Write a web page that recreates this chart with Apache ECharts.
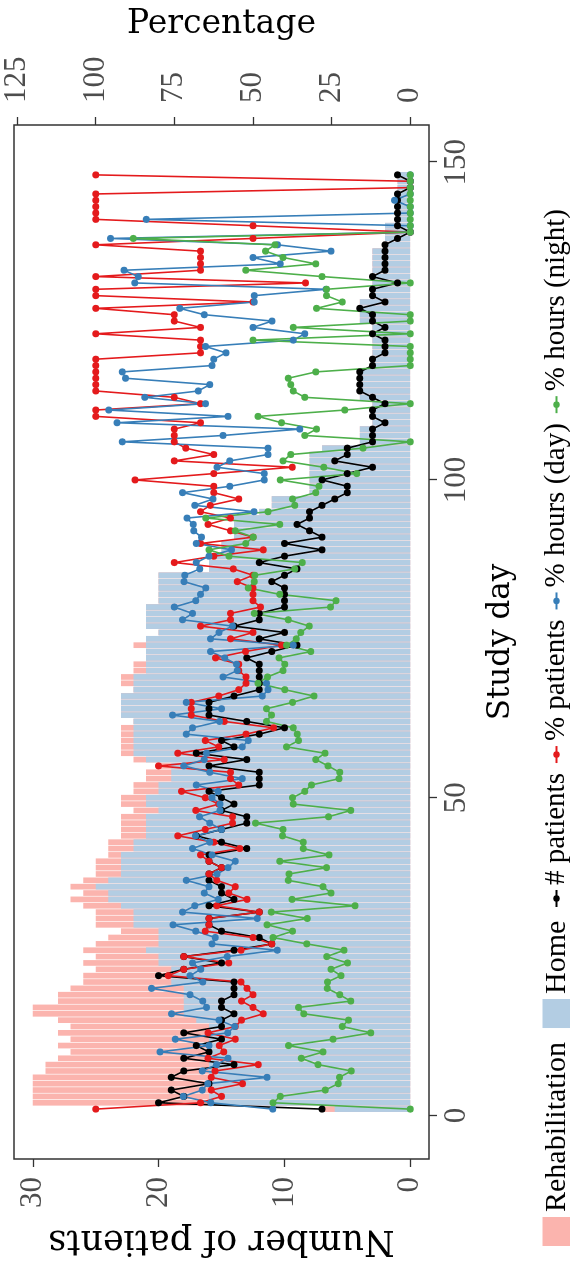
<!DOCTYPE html>
<html>
<head>
<meta charset="utf-8">
<script src="https://cdn.jsdelivr.net/npm/echarts@6/dist/echarts.min.js"></script>
<style>
  html, body { margin: 0; padding: 0; background: #fff; }
  body { width: 570px; height: 1267px; overflow: hidden; position: relative; }
  /* landscape chart turned a quarter turn counter-clockwise to fit the portrait page */
  #chart {
    position: absolute; left: 0; top: 0;
    width: 1267px; height: 570px;
    transform-origin: 0 0;
    transform: translate(0, 1267px) rotate(-90deg);
  }
</style>
</head>
<body>
<div id="chart"></div>
<script>
// Study days 1..148
const firstDay = 1;

// Patients per day by setting
const homePatients = [
  6,16,16,16,16,16,16,16,16,16,16,16,16,16,17,18,18,18,18,18,
  19,19,19,20,20,21,20,20,20,22,22,22,23,24,24,25,24,23,23,23,
  23,22,22,21,21,21,21,20,21,21,20,20,19,19,19,21,22,22,22,22,
  22,22,23,23,23,23,22,22,22,21,21,21,21,21,21,20,21,21,21,21,
  20,20,20,20,20,16,16,16,15,15,14,14,14,14,12,11,11,8,8,8,
  8,8,8,8,7,4,4,4,3,3,3,3,4,4,4,4,4,3,3,3,
  3,3,3,3,4,4,4,4,3,3,3,3,3,3,3,3,2,2,2,2,
  1,1,1,1,1,1,1,1
];
const rehabPatients = [
  1,14,14,14,14,14,13,13,12,11,12,11,12,11,11,12,12,10,10,9,
  7,7,6,6,5,5,5,4,3,3,3,3,3,3,2,2,2,2,2,2,
  1,2,2,2,2,2,2,2,2,2,2,2,2,2,1,1,1,1,1,1,
  1,0,0,0,0,0,0,1,1,1,1,0,0,1,0,0,0,0,0,0,
  0,0,0,0,0,0,0,0,0,0,0,0,0,0,0,0,0,0,0,0,
  0,0,0,0,0,0,0,0,0,0,0,0,0,0,0,0,0,0,0,0,
  0,0,0,0,0,0,0,0,0,0,0,0,0,0,0,0,0,0,0,0,
  0,0,0,0,0,0,0,0
];

// Number of patients (left axis)
const nPatients = [
  7,20,18,19,16,19,18,14,18,16,17,15,18,15,15,14,15,15,14,14,
  14,20,18,15,18,14,11,12,15,16,16,12,16,14,15,15,16,16,15,16,
  16,13,15,17,15,13,13,15,14,15,16,12,12,12,16,13,17,14,15,12,
  10,13,16,16,16,14,12,12,12,12,12,13,11,9,12,10,14,12,12,10,
  10,10,10,11,10,9,12,10,7,10,7,8,9,8,8,7,6,5,5,7,
  5,3,6,5,5,3,3,3,2,3,3,2,3,4,4,4,4,3,3,2,
  2,2,3,2,3,3,4,2,3,3,1,3,2,2,2,2,2,1,0,1,
  1,1,1,1,1,0,0,1
];

// Percentages (right axis)
const pctPatients = [
  100,66.7,60,63.3,53.3,63.3,62.1,48.3,64.3,59.3,60.7,55.6,64.3,55.6,53.6,46.7,50,53.6,50,51.9,
  53.8,76.9,72,57.7,72,53.8,44,50,65.2,64,64,48,61.5,51.9,57.7,55.6,61.5,64,60,64,
  66.7,54.2,62.5,73.9,65.2,56.5,56.5,68.2,60.9,65.2,72.7,54.5,57.1,57.1,80,59.1,73.9,60.9,65.2,52.2,
  43.5,59.1,69.6,69.6,69.6,60.9,54.5,52.2,52.2,54.5,54.5,61.9,52.4,40.9,57.1,50,66.7,57.1,57.1,47.6,
  50,50,50,55,50,56.3,75,62.5,46.7,66.7,50,57.1,64.3,57.1,66.7,63.6,54.5,62.5,62.5,87.5,
  62.5,37.5,75,62.5,71.4,75,75,75,66.7,100,100,66.7,75,100,100,100,100,100,100,66.7,
  66.7,66.7,100,66.7,75,75,100,50,100,100,33.3,100,66.7,66.7,66.7,66.7,100,50,0,50,
  100,100,100,100,100,0,0,100
];
const pctHoursDay = [
  43.7,63.4,72.2,66.1,64.4,45.5,66.1,61.6,57.9,79.6,64,74.7,58,55.8,60.8,75.9,64.8,66,70,82.3,
  66,70,66.6,69.2,58.2,42.3,63,62,68.2,75.4,48.6,72.4,68.5,61,65.5,64,71.2,61.4,57.9,55.6,
  63,69.2,63.7,68.3,60,63.7,67,60.5,60.5,63,61,68,53.4,63.7,72,65.5,64.8,53.4,51.5,71.2,
  69.2,60.6,75.6,60,71.2,47,45.2,45.7,59.5,55,55.2,59,63.5,37.2,63.5,60.8,56.5,72.4,69.2,75,
  68.2,66.7,65,71.9,71.7,66.9,68,64,56.8,68,66.4,68.8,69,71,49.7,68.5,62.7,72.4,57.4,46.4,
  46.4,61.4,57.4,45.2,45.2,91.6,59.5,35.1,93.2,57.9,95.9,65.1,84.4,67.4,63.7,90.5,91.6,63,62.5,58.6,
  65.1,37.2,33.5,50,43.9,65.5,73.3,49.6,49.6,26.8,87.6,86.5,91,41.3,50,25.2,42.2,95.3,0,0,
  83.9,0,0,5,0,0,0,0
];
const pctHoursNight = [
  0,43.6,41.3,27,22.9,22.5,18.7,29.3,34.6,27.7,38.7,24.5,12.5,21.6,19.6,33.8,35.5,18.9,22.4,26.4,
  26.3,22,25.2,19.9,26.5,21,32.9,43.6,37.4,45.5,32.7,44.2,17.5,37.6,25.2,27.7,38.8,38.5,26.6,41.5,
  25.8,34,34,40.6,40.4,49.2,26,18.9,37.2,37.4,33.5,31.4,22.6,22.4,26.1,30,27.1,39.3,35.5,35.9,
  37.2,45.7,44.1,45.7,37.4,30.6,39.9,48.4,45.4,40.4,39.9,41.7,31.6,39.3,36.2,34.8,32.1,38.8,49.6,25.3,
  23.6,41.5,51.5,49.6,49.4,36.7,34.3,57.6,64,52.3,49.9,55.6,41.5,65,45.2,36.7,37.4,30,29,41.3,
  17,27.5,40.4,38,15,0,33.5,29.8,40.9,48.4,20.8,0,33.5,37.2,38,38.8,30,0,0,0,
  0,50,0,37.2,0,0,29.8,21.6,26.6,26.6,0,28,52.3,30,40.4,46,43,88.1,0,0,
  0,0,0,0,0,0,0,0
];

// Axis ticks
const dayTicks = [0, 50, 100, 150];
const patientTicks = [0, 10, 20, 30];
const percentTicks = [0, 25, 50, 75, 100, 125];

const pairs = vals => vals.map((v, i) => [firstDay + i, v]);
// rehabilitation sits on top of home: its bar reaches the day's total
const stackTop = homePatients.map((h, i) => h + rehabPatients[i]);

const colors = {
  rehab: '#fbb4ae', home: '#b3cde3',
  count: '#000000', pctPat: '#e41a1c', day: '#377eb8', night: '#4daf4a'
};
const tickFont = { fontFamily: 'Liberation Serif', fontSize: 31, color: '#4d4d4d' };
const titleFont = { fontFamily: 'DejaVu Serif', fontSize: 33, color: '#000' };
const legendFont = { fontFamily: 'Liberation Serif', fontSize: 30, color: '#000' };
const tickStyle = { color: '#333', width: 1.3 };

function lineSeries(name, color, vals, axis) {
  return {
    name, type: 'line', yAxisIndex: axis, data: pairs(vals),
    symbol: 'circle', symbolSize: 7, showSymbol: true,
    lineStyle: { color, width: 1.6 }, itemStyle: { color },
    emphasis: { disabled: true }, animation: false
  };
}

const chart = echarts.init(document.getElementById('chart'), null, { width: 1267, height: 570 });
chart.setOption({
  animation: false,
  grid: {
    left: 108, right: 119, top: 14, bottom: 141,
    show: true, borderColor: '#333', borderWidth: 1.5, backgroundColor: 'transparent'
  },
  legend: [
    {
      data: ['Rehabilitation', 'Home'],
      left: 16, top: 537, itemWidth: 29, itemHeight: 29, itemGap: 14,
      icon: 'rect', textStyle: legendFont, selectedMode: false
    },
    {
      data: ['# patients', '% patients', '% hours (day)', '% hours (night)'],
      left: 354, top: 537, itemWidth: 17, itemHeight: 8, itemGap: 9,
      textStyle: { ...legendFont, fontSize: 29 }, selectedMode: false
    }
  ],
  xAxis: {
    type: 'value', min: -6.85, max: 155.85,
    axisLine: { show: false, onZero: false }, splitLine: { show: false },
    axisTick: { show: true, length: 8, customValues: dayTicks, lineStyle: tickStyle },
    axisLabel: { customValues: dayTicks, margin: 12, ...tickFont },
    name: 'Study day', nameLocation: 'middle', nameGap: 56,
    nameTextStyle: { ...titleFont, fontSize: 31 }
  },
  yAxis: [
    {
      type: 'value', position: 'left', min: -1.5, max: 31.5,
      axisLine: { show: false, onZero: false }, splitLine: { show: false },
      axisTick: { show: true, length: 8, customValues: patientTicks, lineStyle: tickStyle },
      axisLabel: { customValues: patientTicks, margin: 18, ...tickFont },
      name: 'Number of patients', nameLocation: 'middle', nameRotate: 90, nameGap: 64,
      nameTextStyle: { ...titleFont, fontSize: 35 }
    },
    {
      type: 'value', position: 'right', min: -6, max: 126,
      axisLine: { show: false, onZero: false }, splitLine: { show: false },
      axisTick: { show: true, length: 8, customValues: percentTicks, lineStyle: tickStyle },
      axisLabel: { customValues: percentTicks, margin: 22, ...tickFont },
      name: 'Percentage', nameLocation: 'middle', nameRotate: -90, nameGap: 84,
      nameTextStyle: titleFont
    }
  ],
  series: [
    {
      name: 'Rehabilitation', type: 'bar', data: pairs(stackTop),
      barWidth: 5.7, itemStyle: { color: colors.rehab }, emphasis: { disabled: true }
    },
    {
      name: 'Home', type: 'bar', data: pairs(homePatients), barGap: '-100%',
      barWidth: 5.7, itemStyle: { color: colors.home }, emphasis: { disabled: true }
    },
    lineSeries('# patients', colors.count, nPatients, 0),
    lineSeries('% patients', colors.pctPat, pctPatients, 1),
    lineSeries('% hours (day)', colors.day, pctHoursDay, 1),
    lineSeries('% hours (night)', colors.night, pctHoursNight, 1)
  ]
});
</script>
</body>
</html>
